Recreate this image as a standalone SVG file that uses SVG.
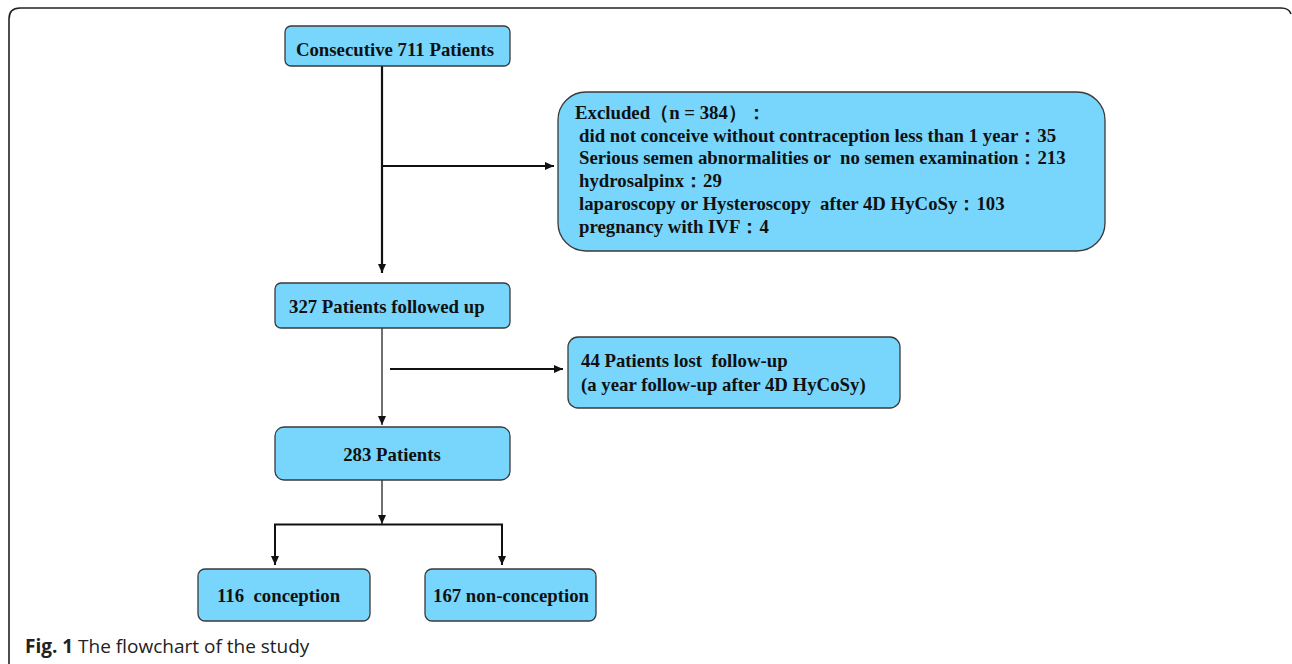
<svg xmlns="http://www.w3.org/2000/svg" width="1292" height="664" viewBox="0 0 1292 664">
<style>
.box{fill:#78d6fc;stroke:#3a3a3a;stroke-width:1.3}
.t{font-family:"Liberation Serif",serif;font-weight:bold;font-size:18.8px;fill:#111;white-space:pre}
.c{stroke:#111;fill:none}
.cap{font-family:"Open Sans",sans-serif;font-size:19px;fill:#222}
</style>
<defs>
<marker id="ah" markerWidth="10" markerHeight="10" refX="9" refY="5" orient="auto" markerUnits="userSpaceOnUse">
<path d="M0,1 L9,5 L0,9 Z" fill="#111"/>
</marker>
</defs>
<rect width="1292" height="664" fill="#fff"/>
<path d="M9,664 V19 Q9,8 20,8 H1281 Q1289,8 1291,14" fill="none" stroke="#222" stroke-width="1.6"/>
<g id="connectors">
<line class="c" x1="382" y1="66" x2="382" y2="273" stroke-width="2.2" marker-end="url(#ah)"/>
<line class="c" x1="382" y1="166" x2="554" y2="166" stroke-width="2.2" marker-end="url(#ah)"/>
<line class="c" x1="382" y1="328" x2="382" y2="425" stroke-width="1.2" marker-end="url(#ah)"/>
<line class="c" x1="390" y1="369" x2="563" y2="369" stroke-width="2" marker-end="url(#ah)"/>
<line class="c" x1="382" y1="480" x2="382" y2="524" stroke-width="1.2" marker-end="url(#ah)"/>
<polyline class="c" points="275,565 275,524.5 502,524.5 502,565" stroke-width="2" marker-end="url(#ah)"/>
<line class="c" x1="275" y1="524.5" x2="275" y2="565" stroke-width="2" marker-end="url(#ah)"/>
</g>
<g id="n1">
<rect class="box" x="285" y="26" width="225" height="40" rx="6"/>
<text class="t" x="395" y="56" text-anchor="middle">Consecutive 711 Patients</text>
</g>
<g id="n_excluded">
<rect class="box" x="558" y="92" width="547" height="159" rx="28"/>
<text class="t" x="575" y="119">Excluded（n = 384）：</text>
<text class="t" x="579" y="142">did not conceive without contraception less than 1 year：35</text>
<text class="t" x="579" y="164">Serious semen abnormalities or  no semen examination：213</text>
<text class="t" x="579" y="187">hydrosalpinx：29</text>
<text class="t" x="579" y="210">laparoscopy or Hysteroscopy  after 4D HyCoSy：103</text>
<text class="t" x="579" y="233">pregnancy with IVF：4</text>
</g>
<g id="n2">
<rect class="box" x="275" y="283" width="235" height="45" rx="6"/>
<text class="t" x="289" y="313">327 Patients followed up</text>
</g>
<g id="n_lost">
<rect class="box" x="568" y="337" width="332" height="71" rx="10"/>
<text class="t" x="581" y="367">44 Patients lost  follow-up</text>
<text class="t" x="581" y="391">(a year follow-up after 4D HyCoSy)</text>
</g>
<g id="n3">
<rect class="box" x="275" y="427" width="235" height="53" rx="9"/>
<text class="t" x="392" y="461" text-anchor="middle">283 Patients</text>
</g>
<g id="n4">
<rect class="box" x="198" y="569" width="172" height="52" rx="7"/>
<text class="t" x="217" y="602">116  conception</text>
</g>
<g id="n5">
<rect class="box" x="425" y="569" width="171" height="52" rx="7"/>
<text class="t" x="433" y="602">167 non-conception</text>
</g>
<text class="cap" x="25" y="653"><tspan font-weight="bold">Fig. 1</tspan> The flowchart of the study</text>
</svg>
